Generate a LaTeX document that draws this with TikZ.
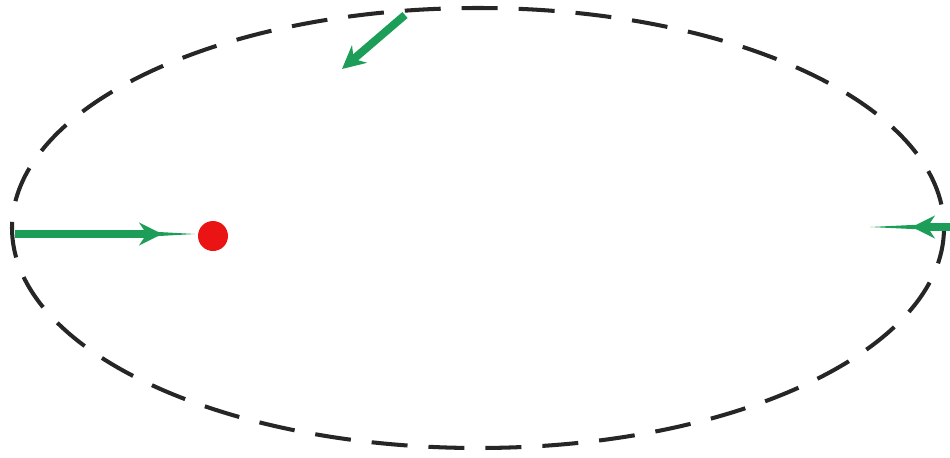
\documentclass[tikz,border=0pt]{standalone}
\usepackage{tikz}
\usetikzlibrary{arrows.meta}
\usepackage{xcolor}
\definecolor{pfeilgruen}{RGB}{28,158,88}
\definecolor{punktrot}{RGB}{235,20,20}

\begin{document}
\begin{tikzpicture}[x=0.02cm,y=-0.02cm,
  bahn/.style={draw=black!85,line width=2.3pt,dash pattern=on 0.72cm off 0.42cm},
  kraft/.style={draw=pfeilgruen,line width=4.5pt,-{Stealth[length=13pt,width=13pt]}},
  spitze/.style={fill=pfeilgruen},
  stern/.style={circle,fill=punktrot,inner sep=0pt,minimum size=0.6cm}]
\useasboundingbox (0,0) rectangle (950,457);
\begin{scope}
\clip (0,0) rectangle (950,457);
% Bahn
\draw[bahn] (478,228) ellipse [x radius=466, y radius=220];
\node[stern] (sonne) at (213,236) {};
% links
\coordinate (l1) at (15,234);
\coordinate (l2) at (162,234);
\coordinate (l3) at (195,234);
\draw[kraft] (l1) -- (l2);
\fill[spitze] (150,231.5) -- (l3) -- (150,236.5) -- cycle;
% rechts
\coordinate (r1) at (965,227);
\coordinate (r2) at (912,227);
\coordinate (r3) at (870,227);
\draw[kraft] (r1) -- (r2);
\fill[spitze] (922,224.5) -- (r3) -- (922,229.5) -- cycle;
% oben
\coordinate (o1) at (405,15);
\coordinate (o2) at (342,69);
\draw[kraft] (o1) -- (o2);
\end{scope}
\end{tikzpicture}
\end{document}
